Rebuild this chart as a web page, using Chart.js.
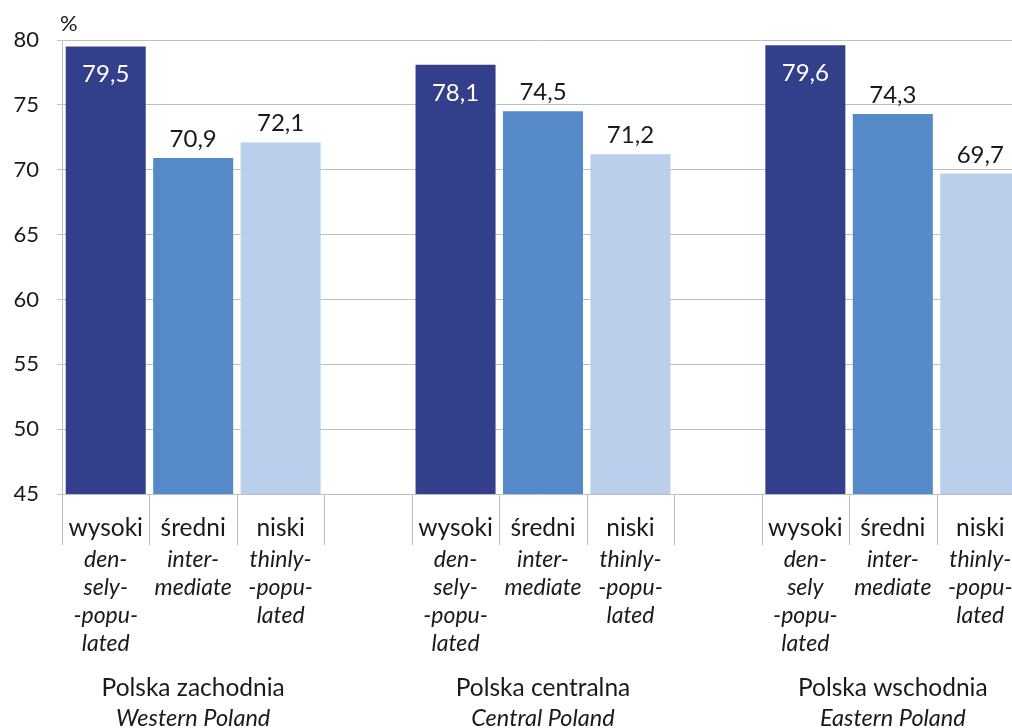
<!DOCTYPE html>
<html>
<head>
<meta charset="utf-8">
<script src="https://cdn.jsdelivr.net/npm/chart.js@4/dist/chart.umd.min.js"></script>
<style>
  html, body { margin: 0; padding: 0; background: #fff; overflow: hidden; }
  #wrap { position: relative; width: 1030px; height: 728px; }
</style>
</head>
<body>
<div id="wrap"><canvas id="c"></canvas></div>
<script>
// ---- data ----
const categories = ['wysoki', 'średni', 'niski', '', 'wysoki', 'średni', 'niski', '', 'wysoki', 'średni', 'niski'];
const subLabels = [
  ['den-', 'sely-', '-popu-', 'lated'], ['inter-', 'mediate'], ['thinly-', '-popu-', 'lated'], [],
  ['den-', 'sely-', '-popu-', 'lated'], ['inter-', 'mediate'], ['thinly-', '-popu-', 'lated'], [],
  ['den-', 'sely', '-popu-', 'lated'], ['inter-', 'mediate'], ['thinly-', '-popu-', 'lated']
];
const values = [79.5, 70.9, 72.1, null, 78.1, 74.5, 71.2, null, 79.6, 74.3, 69.7];
const regionsPl = ['Polska zachodnia', 'Polska centralna', 'Polska wschodnia'];
const regionsEn = ['Western Poland', 'Central Poland', 'Eastern Poland'];
const yTicks = [45, 50, 55, 60, 65, 70, 75, 80];
const unitLabel = '%';

// ---- styles ----
const FONT = 'Lato, "Open Sans", sans-serif';
const TEXT = '#1a1a1a';
const GRID = '#BFBFBF';
const barColors = ['#343F8B', '#5589C8', '#B9CFEB', 'rgba(0,0,0,0)'];

const labelsPlugin = {
  id: 'labels',
  afterDatasetsDraw(chart) {
    const ctx = chart.ctx;
    const meta = chart.getDatasetMeta(0);
    ctx.save();
    ctx.font = '24px ' + FONT;
    ctx.textAlign = 'center';
    ctx.textBaseline = 'alphabetic';
    meta.data.forEach((el, i) => {
      const v = values[i];
      if (v === null) return;
      const txt = v.toFixed(1).replace('.', ',');
      if (i % 4 === 0) {
        ctx.fillStyle = '#ffffff';
        ctx.fillText(txt, el.x, el.y + 36);
      } else {
        ctx.fillStyle = TEXT;
        ctx.fillText(txt, el.x, el.y - 11);
      }
    });
    ctx.restore();
  },
  afterDraw(chart) {
    const ctx = chart.ctx;
    const x = chart.scales.x;
    const area = chart.chartArea;
    const half = (x.getPixelForValue(1) - x.getPixelForValue(0)) / 2;
    ctx.save();
    // dividers
    ctx.strokeStyle = GRID;
    ctx.lineWidth = 1;
    for (let i = 0; i <= categories.length; i++) {
      const px = Math.round(x.getPixelForValue(i) - half) + 0.5;
      ctx.beginPath();
      ctx.moveTo(px, area.bottom);
      ctx.lineTo(px, area.bottom + 51);
      ctx.stroke();
    }
    ctx.fillStyle = TEXT;
    ctx.textAlign = 'center';
    ctx.textBaseline = 'middle';
    categories.forEach((c, i) => {
      const cx = x.getPixelForValue(i);
      ctx.font = '24.5px ' + FONT;
      if (c) ctx.fillText(c, cx, area.bottom + 34);
      ctx.font = 'italic 23px ' + FONT;
      subLabels[i].forEach((s, j) => ctx.fillText(s, cx, area.bottom + 66 + j * 27.7));
    });
    regionsPl.forEach((r, g) => {
      const cx = (x.getPixelForValue(g * 4) + x.getPixelForValue(g * 4 + 2)) / 2;
      ctx.font = '24.5px ' + FONT;
      ctx.fillText(r, cx, area.bottom + 194);
      ctx.font = 'italic 23.5px ' + FONT;
      ctx.fillText(regionsEn[g], cx, area.bottom + 224);
    });
    ctx.font = '22px ' + FONT;
    ctx.textAlign = 'left';
    ctx.fillText(unitLabel, area.left - 2, 24);
    ctx.restore();
  }
};

new Chart(document.getElementById('c'), {
  type: 'bar',
  data: {
    labels: categories,
    datasets: [{
      data: values,
      backgroundColor: categories.map((c, i) => barColors[i % 4]),
      borderWidth: 0,
      barPercentage: 0.915,
      categoryPercentage: 1.0
    }]
  },
  options: {
    responsive: true,
    maintainAspectRatio: false,
    animation: false,
    layout: { padding: { left: 0, right: 6, top: 40, bottom: 234 } },
    plugins: { legend: { display: false }, tooltip: { enabled: false } },
    scales: {
      x: { display: false },
      y: {
        min: 45, max: 80,
        afterBuildTicks(scale) { scale.ticks = yTicks.map(v => ({ value: v })); },
        afterFit(scale) { scale.width = 62; },
        ticks: { color: TEXT, font: { family: FONT, size: 22 }, padding: 18 },
        grid: { color: GRID, lineWidth: 1, tickLength: 5, drawTicks: true },
        border: { display: true, color: GRID, width: 1 }
      }
    }
  },
  plugins: [labelsPlugin]
});
</script>
</body>
</html>
